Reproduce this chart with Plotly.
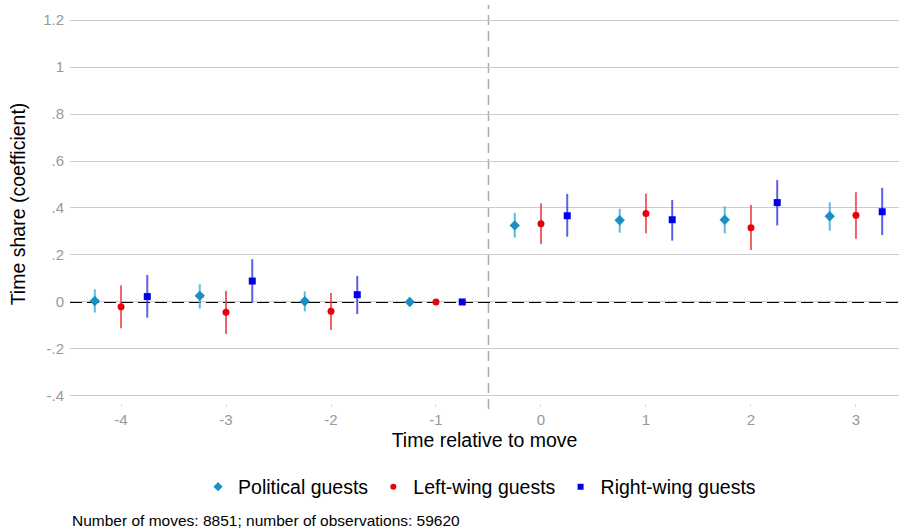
import plotly.graph_objects as go

periods = [-4, -3, -2, -1, 0, 1, 2, 3]

pol_coef = [0.004, 0.026, 0.003, 0.0, 0.326, 0.348, 0.350, 0.365]
pol_hi = [0.054, 0.075, 0.045, 0.0, 0.379, 0.397, 0.407, 0.424]
pol_lo = [-0.045, -0.028, -0.040, 0.0, 0.274, 0.295, 0.292, 0.303]

left_coef = [-0.020, -0.044, -0.040, 0.0, 0.333, 0.377, 0.316, 0.369]
left_hi = [0.071, 0.047, 0.038, 0.0, 0.420, 0.461, 0.413, 0.467]
left_lo = [-0.112, -0.136, -0.119, 0.0, 0.246, 0.292, 0.221, 0.269]

right_coef = [0.023, 0.089, 0.031, 0.0, 0.367, 0.350, 0.423, 0.384]
right_hi = [0.115, 0.182, 0.111, 0.0, 0.460, 0.434, 0.519, 0.486]
right_lo = [-0.067, -0.003, -0.051, 0.0, 0.278, 0.261, 0.326, 0.285]

offsets = {"pol": -0.25, "left": 0.0, "right": 0.25}

ytick_vals = [-0.4, -0.2, 0, 0.2, 0.4, 0.6, 0.8, 1.0, 1.2]
ytick_text = ["-.4", "-.2", "0", ".2", ".4", ".6", ".8", "1", "1.2"]

series = [
    ("Political guests", pol_coef, pol_hi, pol_lo, offsets["pol"], "#1a8fc4", "rgba(70,170,215,0.85)", "diamond", 8, 7),
    ("Left-wing guests", left_coef, left_hi, left_lo, offsets["left"], "#e8000b", "rgba(235,60,60,0.8)", "circle", 7, 6),
    ("Right-wing guests", right_coef, right_hi, right_lo, offsets["right"], "#0000e6", "rgba(40,40,230,0.75)", "square", 7, 6),
]

fig = go.Figure()
for name, coef, hi, lo, off, mcol, ecol, sym, sz, lsz in series:
    xs = [p + off for p in periods]
    fig.add_trace(go.Scatter(
        x=xs, y=coef, mode="markers", name=name, showlegend=False,
        marker=dict(symbol=sym, size=sz, color=mcol),
        error_y=dict(type="data", symmetric=False,
                     array=[h - c for h, c in zip(hi, coef)],
                     arrayminus=[c - l for c, l in zip(coef, lo)],
                     color=ecol, thickness=2, width=0),
    ))
for name, coef, hi, lo, off, mcol, ecol, sym, sz, lsz in series:
    fig.add_trace(go.Scatter(
        x=[None], y=[None], mode="markers", name=name, showlegend=True,
        marker=dict(symbol=sym, size=lsz, color=mcol),
    ))

fig.add_shape(type="line", xref="paper", yref="y", x0=0, x1=1, y0=0, y1=0,
              line=dict(color="black", width=2, dash="12px,5px"), layer="below")
fig.add_shape(type="line", xref="x", yref="paper", x0=-0.5, x1=-0.5, y0=-0.015, y1=1,
              line=dict(color="#aaaaaa", width=1.5, dash="10px,6px"), layer="below")

fig.update_layout(
    width=899, height=531,
    margin=dict(l=70, r=0, t=5, b=128),
    plot_bgcolor="white", paper_bgcolor="white",
    font=dict(family="Liberation Sans, Arial, sans-serif", color="black"),
    showlegend=True,
    legend=dict(orientation="h", x=0.494, xanchor="center", y=-0.211, yanchor="middle",
                font=dict(size=19.5), itemwidth=30, traceorder="normal"),
    xaxis=dict(range=[-4.486, 3.41], tickvals=periods, ticktext=[str(p) for p in periods],
               showgrid=False, zeroline=False, showline=False,
               ticks="outside", ticklen=3, tickcolor="#dddddd",
               tickfont=dict(size=15, color="#999999"),
               title=dict(text="Time relative to move", font=dict(size=19.5), standoff=6)),
    yaxis=dict(range=[-0.43, 1.264], tickvals=ytick_vals, ticktext=ytick_text,
               showgrid=True, gridcolor="#cccccc", gridwidth=1, zeroline=False, showline=False,
               tickfont=dict(size=15, color="#999999"), ticklabelstandoff=5,
               title=dict(text="Time share (coefficient)", font=dict(size=19.5), standoff=12)),
    annotations=[dict(text="Number of moves: 8851; number of observations: 59620",
                      xref="paper", yref="paper", x=0.0, y=-0.296, xanchor="left",
                      yanchor="middle", showarrow=False,
                      font=dict(size=15.5, color="black"))],
)

fig.write_html("out.html")
